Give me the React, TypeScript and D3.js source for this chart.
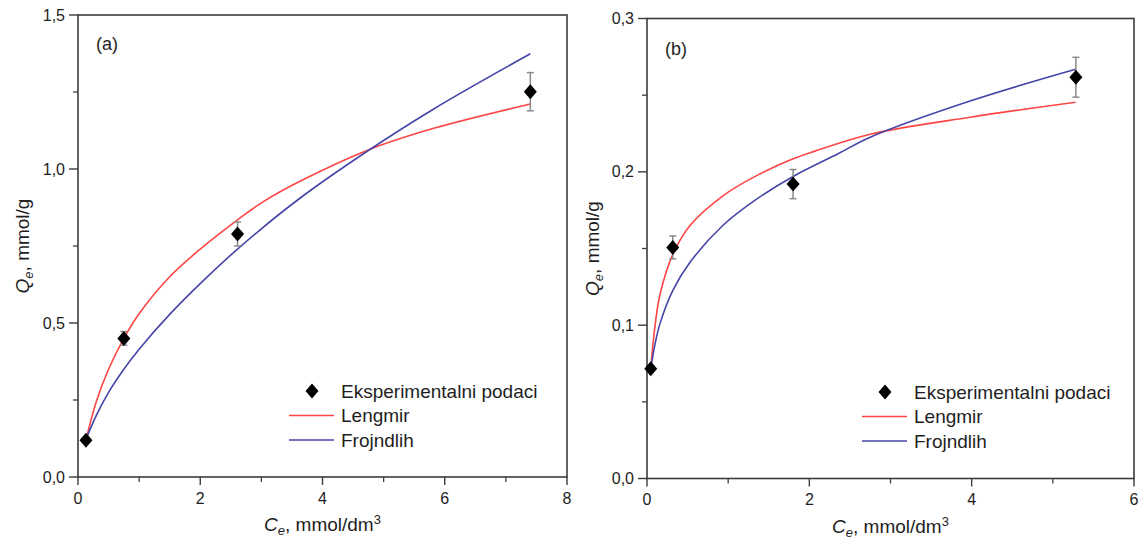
import React from "react";
import * as d3 from "d3";

// ---------- Data ----------
// Panel (a)
const aExpC = [0.13, 0.75, 2.61, 7.4];
const aExpQ = [0.119, 0.45, 0.789, 1.251];
const aExpErr = [0.0, 0.022, 0.039, 0.062];
const aLangC = [0.13, 0.3, 0.5, 0.75, 1.0, 1.5, 2.0, 2.61, 3.0, 3.63, 4.75, 5.82, 7.4];
const aLangQ = [0.12, 0.245, 0.35, 0.45, 0.53, 0.65, 0.74, 0.835, 0.89, 0.96, 1.062, 1.132, 1.211];
const aFreC = [0.13, 0.3, 0.5, 0.75, 1.0, 1.5, 2.0, 2.61, 3.63, 4.75, 5.82, 7.4];
const aFreQ = [0.122, 0.2, 0.275, 0.35, 0.415, 0.528, 0.628, 0.74, 0.905, 1.06, 1.195, 1.374];
const aXTicks = [0, 2, 4, 6, 8];
const aXMinor = [1, 3, 5, 7];
const aYTicks = [0, 0.5, 1.0, 1.5];
const aYMinor = [0.25, 0.75, 1.25];

// Panel (b)
const bExpC = [0.046, 0.317, 1.8, 5.284];
const bExpQ = [0.0715, 0.1507, 0.192, 0.2617];
const bExpErr = [0.0, 0.0075, 0.0095, 0.013];
const bLangC = [0.046, 0.1, 0.16, 0.317, 0.53, 0.94, 1.35, 1.8, 2.07, 2.75, 3.98, 5.28];
const bLangQ = [0.072, 0.1, 0.12, 0.146, 0.165, 0.1845, 0.1975, 0.2085, 0.2135, 0.2245, 0.2356, 0.2454];
const bFreC = [0.046, 0.1, 0.16, 0.317, 0.53, 0.94, 1.35, 1.8, 2.36, 2.75, 3.98, 5.28];
const bFreQ = [0.072, 0.088, 0.101, 0.1225, 0.141, 0.1653, 0.1822, 0.197, 0.212, 0.2226, 0.2462, 0.2669];
const bXTicks = [0, 2, 4, 6];
const bXMinor = [1, 3, 5];
const bYTicks = [0, 0.1, 0.2, 0.3];
const bYMinor = [0.05, 0.15, 0.25];

const legendLabels = ["Eksperimentalni podaci", "Lengmir", "Frojndlih"];

const FONT = "'Liberation Sans', Arial, Helvetica, sans-serif";
const RED = "#ff4646";
const BLUE = "#4545a8";
const AXIS = "#3c3c3c";
const TEXT = "#1e1e1e";

type PanelProps = {
  label: string;
  xDomain: [number, number];
  yDomain: [number, number];
  xRange: [number, number];
  yRange: [number, number];
  xTicks: number[];
  xMinor: number[];
  yTicks: number[];
  yMinor: number[];
  expC: number[];
  expQ: number[];
  expErr: number[];
  langC: number[];
  langQ: number[];
  freC: number[];
  freQ: number[];
  legendX: number;
  legendY: number;
  labelPos: [number, number];
  yTitleX: number;
};

const fmtComma = (v: number) => d3.format(".1f")(v).replace(".", ",");

function Panel(p: PanelProps) {
  const x = d3.scaleLinear().domain(p.xDomain).range(p.xRange);
  const y = d3.scaleLinear().domain(p.yDomain).range(p.yRange);
  const [x0, x1] = p.xRange;
  const [y0, y1] = p.yRange;
  const line = d3
    .line<[number, number]>()
    .x((d) => x(d[0]))
    .y((d) => y(d[1]))
    .curve(d3.curveCatmullRom.alpha(0.5));
  const langPts = p.langC.map((c, i) => [c, p.langQ[i]] as [number, number]);
  const frePts = p.freC.map((c, i) => [c, p.freQ[i]] as [number, number]);
  const diamond = (cx: number, cy: number, hw = 6.5, hh = 7.5) =>
    `M${cx},${cy - hh}L${cx + hw},${cy}L${cx},${cy + hh}L${cx - hw},${cy}Z`;
  const rowH = 24.5;
  const lgLineX0 = p.legendX;
  const lgLineX1 = p.legendX + 45;
  const lgTextX = p.legendX + 52;
  const lgDiamondX = p.legendX + 23;
  const xMid = (x0 + x1) / 2;
  const yMid = (y0 + y1) / 2;

  return (
    <g>
      <rect x={x0} y={y1} width={x1 - x0} height={y0 - y1} fill="none" stroke={AXIS} strokeWidth={1.6} />
      {p.xTicks.map((t) => (
        <g key={"xt" + t}>
          <line x1={x(t)} x2={x(t)} y1={y0} y2={y0 + 8} stroke={AXIS} strokeWidth={1.4} />
          <text x={x(t)} y={y0 + 21} textAnchor="middle" dominantBaseline="central" fontSize={16} fill={TEXT}>
            {t}
          </text>
        </g>
      ))}
      {p.xMinor.map((t) => (
        <line key={"xm" + t} x1={x(t)} x2={x(t)} y1={y0} y2={y0 + 5} stroke={AXIS} strokeWidth={1.3} />
      ))}
      {p.yTicks.map((t) => (
        <g key={"yt" + t}>
          <line x1={x0 - 9} x2={x0} y1={y(t)} y2={y(t)} stroke={AXIS} strokeWidth={1.4} />
          <text x={x0 - 13} y={y(t)} textAnchor="end" dominantBaseline="central" fontSize={16} fill={TEXT}>
            {fmtComma(t)}
          </text>
        </g>
      ))}
      {p.yMinor.map((t) => (
        <line key={"ym" + t} x1={x0 - 5} x2={x0} y1={y(t)} y2={y(t)} stroke={AXIS} strokeWidth={1.3} />
      ))}
      <path d={line(langPts) || ""} fill="none" stroke={RED} strokeWidth={1.6} />
      <path d={line(frePts) || ""} fill="none" stroke={BLUE} strokeWidth={1.6} />
      {p.expC.map((c, i) =>
        p.expErr[i] > 0 ? (
          <g key={"e" + i} stroke="#8a8a8a" strokeWidth={1.5}>
            <line x1={x(c)} x2={x(c)} y1={y(p.expQ[i] - p.expErr[i])} y2={y(p.expQ[i] + p.expErr[i])} />
            <line x1={x(c) - 3.5} x2={x(c) + 3.5} y1={y(p.expQ[i] + p.expErr[i])} y2={y(p.expQ[i] + p.expErr[i])} />
            <line x1={x(c) - 3.5} x2={x(c) + 3.5} y1={y(p.expQ[i] - p.expErr[i])} y2={y(p.expQ[i] - p.expErr[i])} />
          </g>
        ) : null
      )}
      {p.expC.map((c, i) => (
        <path key={"p" + i} d={diamond(x(c), y(p.expQ[i]))} fill="#000" />
      ))}
      <text x={p.labelPos[0]} y={p.labelPos[1]} fontSize={18} fill={TEXT}>
        {p.label}
      </text>
      <path d={diamond(lgDiamondX, p.legendY)} fill="#000" />
      <text x={lgTextX} y={p.legendY} dominantBaseline="central" fontSize={19} fill={TEXT}>
        {legendLabels[0]}
      </text>
      <line x1={lgLineX0} x2={lgLineX1} y1={p.legendY + rowH} y2={p.legendY + rowH} stroke={RED} strokeWidth={1.6} />
      <text x={lgTextX} y={p.legendY + rowH} dominantBaseline="central" fontSize={19} fill={TEXT}>
        {legendLabels[1]}
      </text>
      <line x1={lgLineX0} x2={lgLineX1} y1={p.legendY + 2 * rowH} y2={p.legendY + 2 * rowH} stroke={BLUE} strokeWidth={1.6} />
      <text x={lgTextX} y={p.legendY + 2 * rowH} dominantBaseline="central" fontSize={19} fill={TEXT}>
        {legendLabels[2]}
      </text>
      <text x={xMid} y={y0 + 54} textAnchor="middle" fontSize={19} fill={TEXT}>
        <tspan fontStyle="italic">C</tspan>
        <tspan fontStyle="italic" fontSize={13} dy={4}>e</tspan>
        <tspan dy={-4}>, mmol/dm</tspan>
        <tspan fontSize={13} dy={-7}>3</tspan>
      </text>
      <text
        transform={`translate(${p.yTitleX},${yMid}) rotate(-90)`}
        textAnchor="middle"
        fontSize={19}
        fill={TEXT}
      >
        <tspan fontStyle="italic">Q</tspan>
        <tspan fontStyle="italic" fontSize={13} dy={4}>e</tspan>
        <tspan dy={-4}>, mmol/g</tspan>
      </text>
    </g>
  );
}

export default function App() {
  return (
    <svg
      width={1141}
      height={538}
      style={{ position: "absolute", left: 0, top: 0, background: "#fff", fontFamily: FONT }}
    >
      <rect width={1141} height={538} fill="#fff" />
      <Panel
        label="(a)"
        xDomain={[0, 8]}
        yDomain={[0, 1.5]}
        xRange={[78, 567]}
        yRange={[477, 15]}
        xTicks={aXTicks}
        xMinor={aXMinor}
        yTicks={aYTicks}
        yMinor={aYMinor}
        expC={aExpC}
        expQ={aExpQ}
        expErr={aExpErr}
        langC={aLangC}
        langQ={aLangQ}
        freC={aFreC}
        freQ={aFreQ}
        legendX={289}
        legendY={391}
        labelPos={[96, 50]}
        yTitleX={29}
      />
      <Panel
        label="(b)"
        xDomain={[0, 6]}
        yDomain={[0, 0.3]}
        xRange={[647, 1134]}
        yRange={[478.5, 18.5]}
        xTicks={bXTicks}
        xMinor={bXMinor}
        yTicks={bYTicks}
        yMinor={bYMinor}
        expC={bExpC}
        expQ={bExpQ}
        expErr={bExpErr}
        langC={bLangC}
        langQ={bLangQ}
        freC={bFreC}
        freQ={bFreQ}
        legendX={862}
        legendY={392}
        labelPos={[665, 55]}
        yTitleX={599}
      />
    </svg>
  );
}
